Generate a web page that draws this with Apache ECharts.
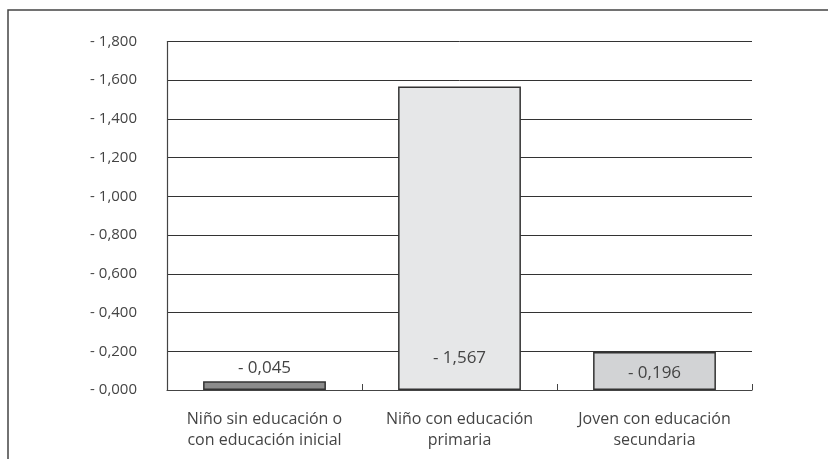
<!DOCTYPE html>
<html><head><meta charset="utf-8">
<script src="https://cdn.jsdelivr.net/npm/echarts@6/dist/echarts.min.js"></script>
<style>html,body{margin:0;padding:0;background:#fff}#c{width:828px;height:459px}</style>
</head><body><div id="c"></div>
<script>
const categories = ['Niño sin educación o\ncon educación inicial', 'Niño con educación\nprimaria', 'Joven con educación\nsecundaria'];
const values = [0.045, 1.567, 0.196];
const valueLabels = ['- 0,045', '- 1,567', '- 0,196'];
const tickValues = [0, 0.2, 0.4, 0.6, 0.8, 1.0, 1.2, 1.4, 1.6, 1.8];
const tickLabels = ['- 0,000', '- 0,200', '- 0,400', '- 0,600', '- 0,800', '- 1,000', '- 1,200', '- 1,400', '- 1,600', '- 1,800'];
const barColors = ['#8c8c8c', '#e6e7e8', '#d2d3d5'];

const font = '"Open Sans", Lato, sans-serif';
const textColor = '#444';
const labelCfg = [
  {position: 'top', distance: 5},
  {position: 'insideBottom', distance: 23},
  {position: 'insideBottom', distance: 8}
];
const chart = echarts.init(document.getElementById('c'), null, {renderer: 'canvas'});
chart.setOption({
  animation: false,
  backgroundColor: '#fff',
  graphic: [{
    type: 'rect', shape: {x: 8, y: 10, width: 840, height: 470},
    style: {fill: 'none', stroke: '#444', lineWidth: 1.5}, silent: true
  }],
  grid: {left: 167, right: 76, top: 41.5, bottom: 69},
  xAxis: {
    type: 'category', data: categories,
    axisLine: {lineStyle: {color: '#444', width: 1.2}},
    axisTick: {show: true, inside: true, length: 6, interval: 0, lineStyle: {color: '#444'}},
    axisLabel: {interval: 0, hideOverlap: false, color: textColor, fontFamily: font, fontSize: 16, lineHeight: 21, margin: 19}
  },
  yAxis: {
    type: 'value', min: 0, max: 1.8, interval: 0.2,
    axisLine: {show: true, lineStyle: {color: '#444', width: 1.2}},
    axisTick: {show: false},
    splitLine: {lineStyle: {color: '#333', width: 1}},
    axisLabel: {
      color: textColor, fontFamily: font, fontSize: 15, margin: 30,
      formatter: function (v) {
        const i = tickValues.findIndex(t => Math.abs(t - v) < 1e-6);
        return i >= 0 ? tickLabels[i] : '';
      }
    }
  },
  series: [{
    type: 'bar', barWidth: '63%',
    data: values.map((v, i) => ({
      value: v,
      itemStyle: {color: barColors[i], borderColor: '#333', borderWidth: 1.5},
      label: {show: true, position: labelCfg[i].position, distance: labelCfg[i].distance,
        formatter: valueLabels[i], color: textColor, fontFamily: font, fontSize: 17}
    }))
  }]
});
</script></body></html>
